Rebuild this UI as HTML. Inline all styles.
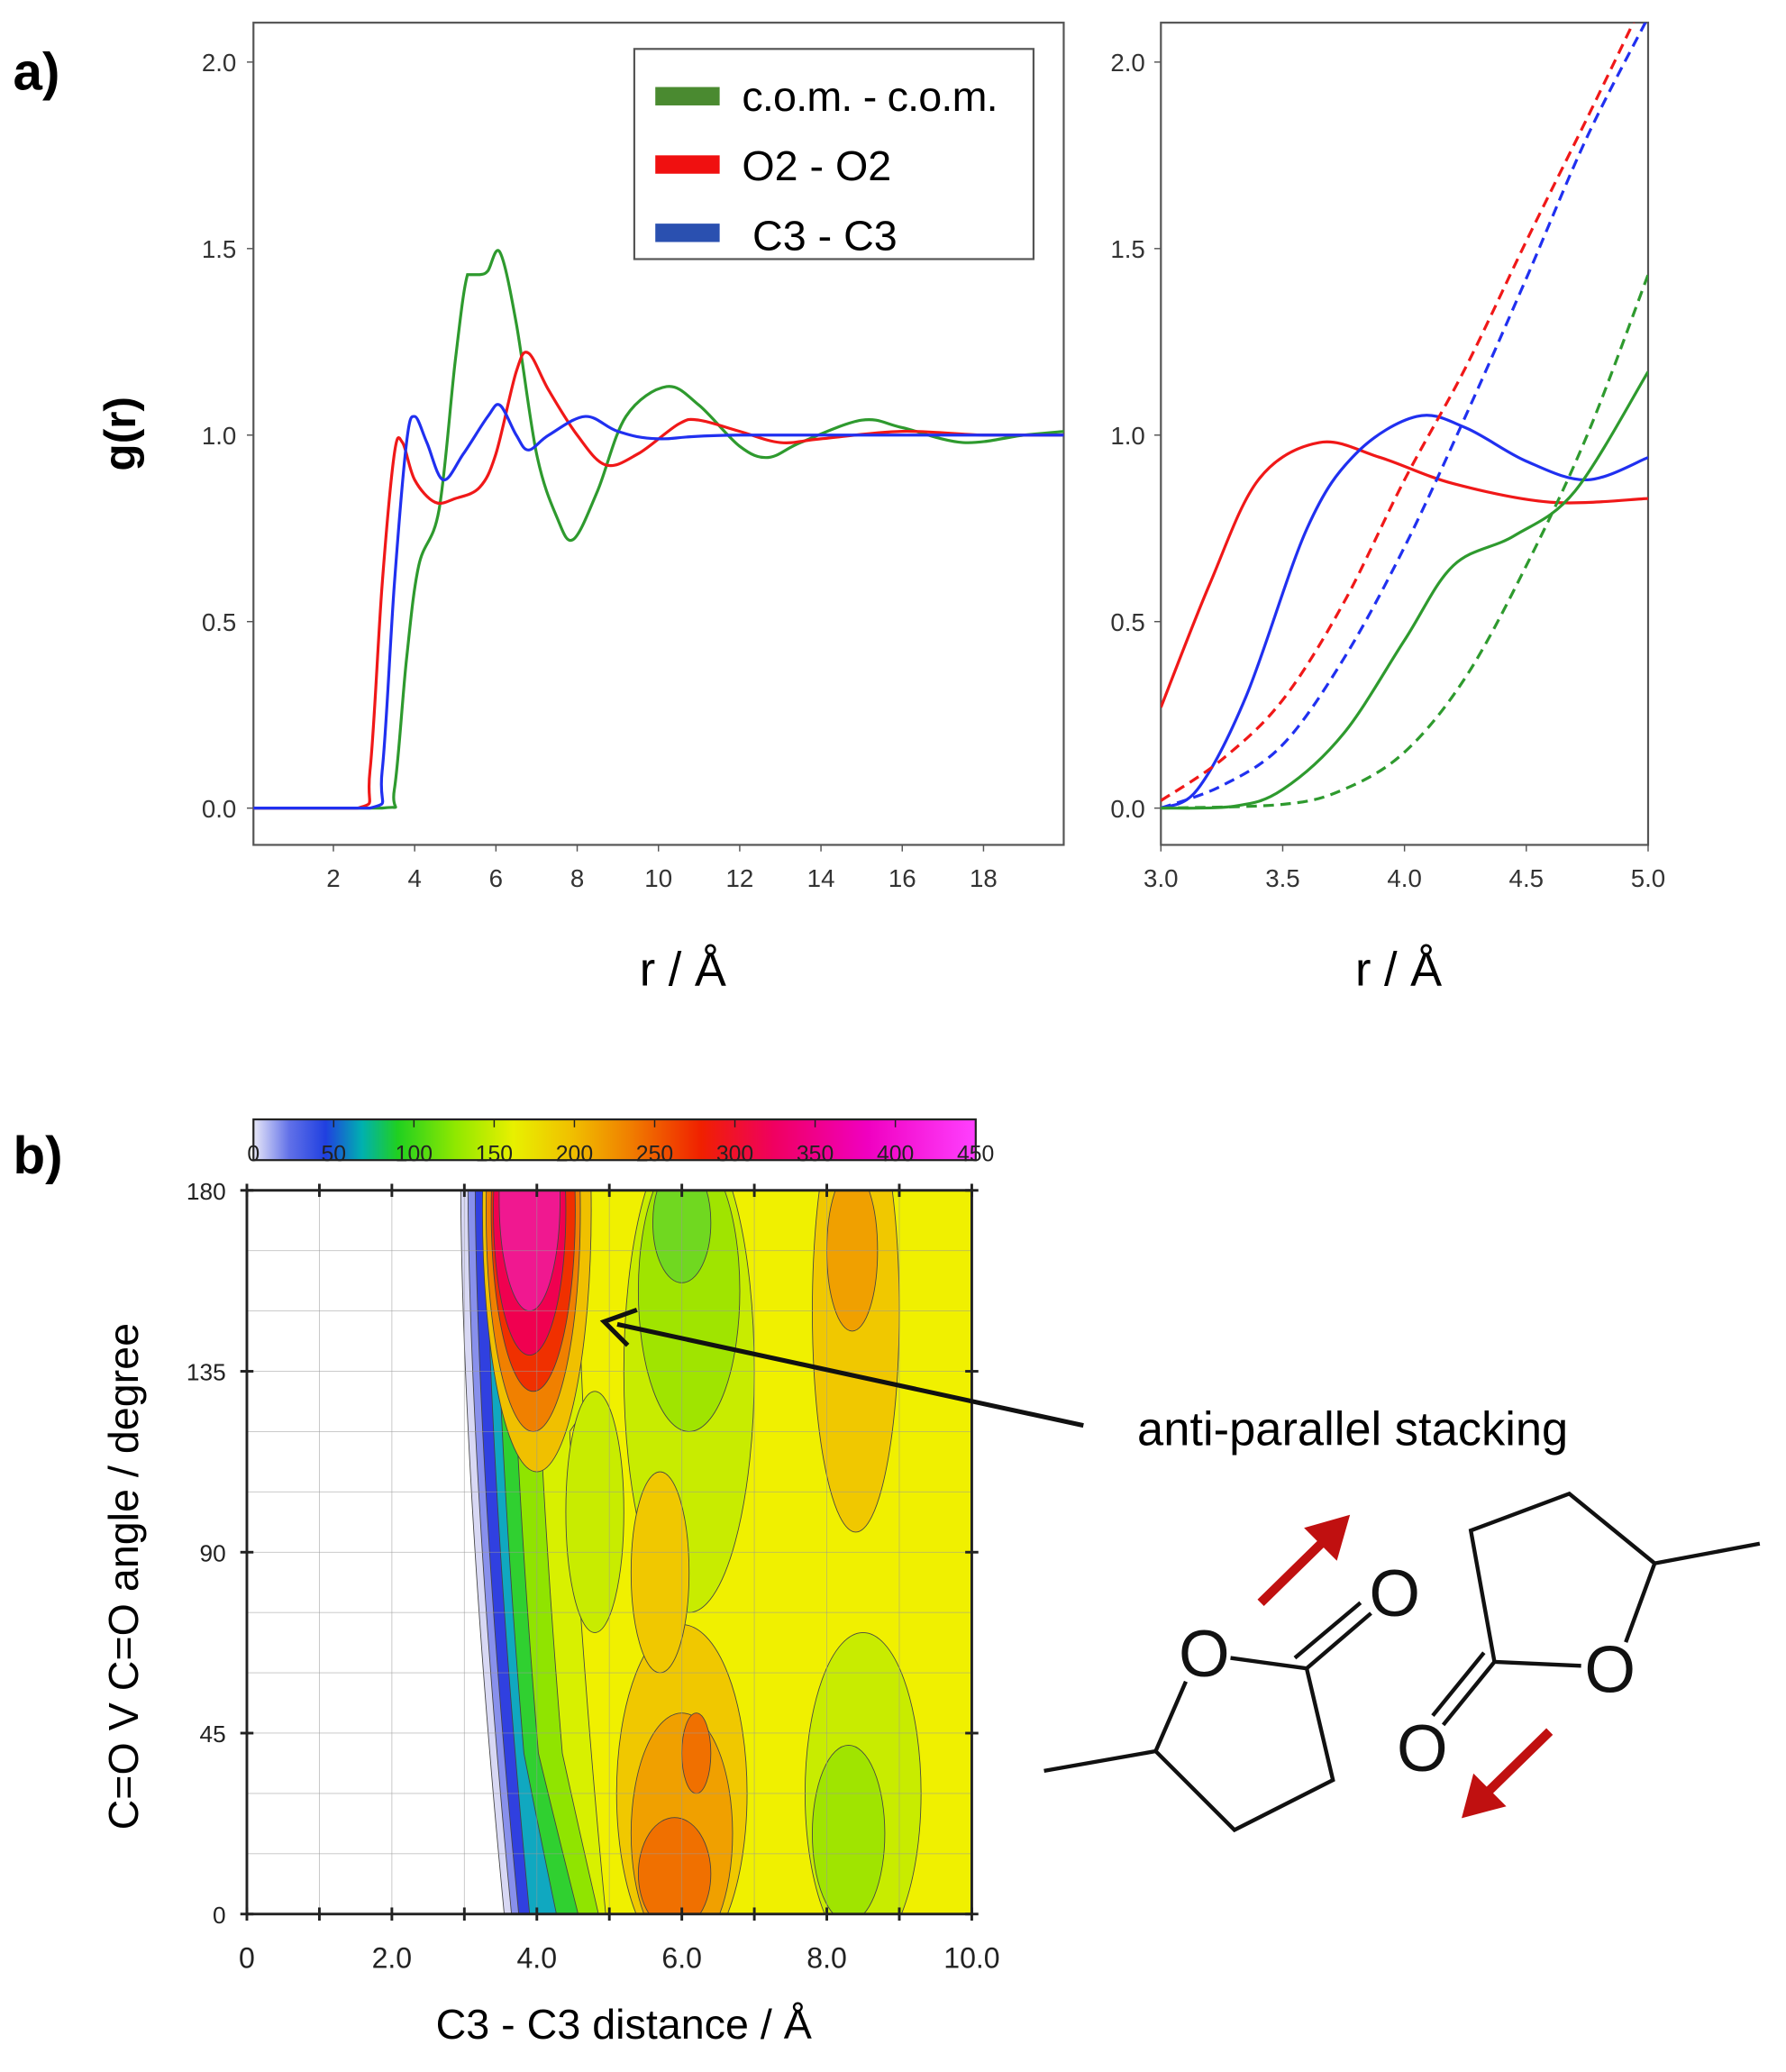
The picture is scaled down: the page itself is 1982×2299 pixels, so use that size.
<!DOCTYPE html>
<html><head><meta charset="utf-8"><style>
html,body{margin:0;padding:0;background:#fff;}
svg{display:block;}
text{font-family:"Liberation Sans",sans-serif;}
</style></head><body>
<svg id="s" width="1982" height="2299" viewBox="0 0 1360 1577" xmlns="http://www.w3.org/2000/svg">
<defs>
<clipPath id="cl"><rect x="193" y="17" width="617" height="626"/></clipPath>
<clipPath id="cr"><rect x="884" y="17" width="371" height="626"/></clipPath>
<clipPath id="ch"><rect x="188" y="906" width="552" height="551"/></clipPath>
<linearGradient id="cb" x1="0" x2="1" y1="0" y2="0">
<stop offset="0" stop-color="#e8e8f8"/><stop offset="0.05" stop-color="#6070e8"/>
<stop offset="0.1" stop-color="#2040e0"/><stop offset="0.15" stop-color="#00b0b0"/>
<stop offset="0.2" stop-color="#20d020"/><stop offset="0.28" stop-color="#90e800"/>
<stop offset="0.36" stop-color="#e8f000"/><stop offset="0.44" stop-color="#f0c000"/>
<stop offset="0.52" stop-color="#f08000"/><stop offset="0.62" stop-color="#f02000"/>
<stop offset="0.72" stop-color="#f00060"/><stop offset="0.85" stop-color="#f000c0"/>
<stop offset="1" stop-color="#ff40ff"/></linearGradient>
</defs>
<text x="10" y="68" font-size="40" font-weight="bold">a)</text>
<rect x="193" y="17" width="617" height="626" fill="none" stroke="#555" stroke-width="1.5"/>
<rect x="884" y="17" width="371" height="626" fill="none" stroke="#555" stroke-width="1.5"/>
<g id="ax" font-size="19" fill="#333"></g>
<text x="0" y="0" font-size="34" transform="translate(103,330) rotate(-90)" text-anchor="middle" font-weight="bold">g(r)</text>
<text x="520" y="750" font-size="36" text-anchor="middle">r / Å</text>
<text x="1065" y="750" font-size="36" text-anchor="middle">r / Å</text>
<g id="curves" fill="none" stroke-width="2.2"></g>
<rect x="483" y="37" width="304" height="160" fill="#fff" stroke="#555" stroke-width="1.5"/>
<rect x="499" y="66" width="49" height="14" fill="#4a8a30"/>
<rect x="499" y="118" width="49" height="14" fill="#f01010"/>
<rect x="499" y="170" width="49" height="14" fill="#2a50b0"/>
<text x="565" y="84" font-size="32" textLength="195">c.o.m. - c.o.m.</text>
<text x="565" y="137" font-size="32">O2 - O2</text>
<text x="573" y="190" font-size="32">C3 - C3</text>
<text x="10" y="893" font-size="40" font-weight="bold">b)</text>
<rect x="193" y="852" width="550" height="31" fill="url(#cb)" stroke="#222" stroke-width="1.5"/>
<g id="cbl" font-size="17" fill="#222"></g>
<g clip-path="url(#ch)" id="heat"></g>
<g id="hax"></g>
<text x="0" y="0" font-size="32" transform="translate(105,1200) rotate(-90)" text-anchor="middle">C=O V C=O angle / degree</text>
<text x="475" y="1552" font-size="32" text-anchor="middle">C3 - C3 distance / Å</text>
<line x1="825" y1="1085" x2="470" y2="1008" stroke="#111" stroke-width="3.5"/>
<polyline points="485,997 460,1006 478,1024" fill="none" stroke="#111" stroke-width="3.5"/>
<text x="866" y="1100" font-size="36">anti-parallel stacking</text>
<g fill="none" stroke="#111" stroke-width="3">
<polyline points="937,1262 995,1270 1015,1355 940,1393 880,1333 903,1280"/>
<line x1="880" y1="1333" x2="795" y2="1348"/>
<line x1="995" y1="1270" x2="1044" y2="1228"/>
<line x1="986" y1="1262" x2="1036" y2="1220"/>
<polyline points="1204,1268 1138,1265 1120,1165 1195,1137 1260,1190 1238,1250"/>
<line x1="1260" y1="1190" x2="1340" y2="1175"/>
<line x1="1138" y1="1265" x2="1099" y2="1313"/>
<line x1="1130" y1="1258" x2="1091" y2="1306"/>
</g>
<g font-size="50" text-anchor="middle" fill="#111">
<text x="917" y="1276">O</text><text x="1062" y="1230">O</text>
<text x="1226" y="1288">O</text><text x="1083" y="1348">O</text>
</g>
<g fill="#c01010" stroke="#c01010">
<line x1="960" y1="1220" x2="1008" y2="1173" stroke-width="7"/>
<polygon points="1028,1153 993,1163 1018,1188" stroke="none"/>
<line x1="1180" y1="1318" x2="1132" y2="1365" stroke-width="7"/>
<polygon points="1113,1384 1122,1350 1147,1375" stroke="none"/>
</g>
</svg>
<script>
const NS="http://www.w3.org/2000/svg";
function el(p,t,a,txt){const e=document.createElementNS(NS,t);for(const k in a)e.setAttribute(k,a[k]);if(txt!==undefined)e.textContent=txt;document.getElementById(p).appendChild(e);return e;}
const LX=r=>192+30.94*r, Y=g=>615-284*g, RX=r=>884+185.5*(r-3);
for(const g of [0,0.5,1,1.5,2]){el('ax','text',{x:180,y:Y(g)+7,'text-anchor':'end'},g.toFixed(1));el('ax','text',{x:872,y:Y(g)+7,'text-anchor':'end'},g.toFixed(1));
el('ax','line',{x1:188,x2:193,y1:Y(g),y2:Y(g),stroke:'#555'});el('ax','line',{x1:879,x2:884,y1:Y(g),y2:Y(g),stroke:'#555'});}
for(let r=2;r<=18;r+=2){el('ax','text',{x:LX(r),y:675,'text-anchor':'middle'},r);el('ax','line',{x1:LX(r),x2:LX(r),y1:643,y2:648,stroke:'#555'});}
for(const r of [3,3.5,4,4.5,5]){el('ax','text',{x:RX(r),y:675,'text-anchor':'middle'},r.toFixed(1));el('ax','line',{x1:RX(r),x2:RX(r),y1:643,y2:648,stroke:'#555'});}
function path(pts,fx){pts=pts.map(p=>[fx(p[0]),Y(p[1])]);let d='M'+pts[0][0]+','+pts[0][1];
for(let i=0;i<pts.length-1;i++){const p0=pts[i-1]||pts[i],p1=pts[i],p2=pts[i+1],p3=pts[i+2]||p2;
let y1=p1[1]+(p2[1]-p0[1])/6,y2=p2[1]-(p3[1]-p1[1])/6;const lo=Math.min(p1[1],p2[1]),hi=Math.max(p1[1],p2[1]);
if(p1[1]==p2[1]){y1=p1[1];y2=p2[1];}
d+=' C'+(p1[0]+(p2[0]-p0[0])/6)+','+y1+' '+(p2[0]-(p3[0]-p1[0])/6)+','+y2+' '+p2[0]+','+p2[1];}return d;}
const G='#2e9a2e',R='#f01818',B='#2030f0';
const gL=[[0,0],[3.2,0],[3.5,0.05],[3.8,0.4],[4.1,0.65],[4.6,0.8],[5.0,1.2],[5.3,1.43],[5.6,1.43],[5.8,1.44],[6.1,1.49],[6.5,1.3],[7.0,0.95],[7.5,0.78],[7.9,0.72],[8.5,0.85],[9.2,1.05],[10.2,1.13],[11,1.08],[12,0.97],[12.7,0.94],[13.5,0.98],[15,1.04],[16,1.02],[17.5,0.98],[19,1.0],[20,1.01]];
const rL=[[0,0],[2.6,0],[2.9,0.1],[3.2,0.6],[3.5,0.95],[3.7,0.98],[4.0,0.88],[4.5,0.82],[5.0,0.83],[5.6,0.86],[6.0,0.95],[6.5,1.17],[6.8,1.22],[7.3,1.12],[8,1.0],[8.7,0.92],[9.5,0.95],[10.5,1.03],[11,1.04],[12,1.01],[13,0.98],[14,0.99],[16,1.01],[18,1.0],[20,1.0]];
const bL=[[0,0],[2.9,0],[3.2,0.1],[3.5,0.6],[3.8,0.98],[4.0,1.05],[4.3,0.98],[4.7,0.88],[5.2,0.95],[5.8,1.05],[6.1,1.08],[6.5,1.0],[6.8,0.96],[7.3,1.0],[8.2,1.05],[9,1.01],[10,0.99],[12,1.0],[20,1.0]];
const gl=el('curves','g',{'clip-path':'url(#cl)'});gl.id='gl';
const gr=el('curves','g',{'clip-path':'url(#cr)'});gr.id='gr';
el('gl','path',{d:path(gL,LX),stroke:G});el('gl','path',{d:path(rL,LX),stroke:R});el('gl','path',{d:path(bL,LX),stroke:B});
el('gr','path',{d:path([[3,0.27],[3.2,0.6],[3.4,0.88],[3.65,0.98],[3.9,0.94],[4.2,0.87],[4.6,0.82],[5,0.83]],RX),stroke:R});
el('gr','path',{d:path([[3,0],[3.15,0.05],[3.35,0.3],[3.6,0.75],[3.8,0.95],[4.05,1.05],[4.25,1.02],[4.5,0.93],[4.75,0.88],[5,0.94]],RX),stroke:B});
el('gr','path',{d:path([[3,0],[3.3,0.005],[3.5,0.05],[3.75,0.2],[4.0,0.45],[4.2,0.65],[4.45,0.73],[4.7,0.85],[5,1.17]],RX),stroke:G});
el('gr','path',{d:path([[3,0.02],[3.25,0.13],[3.5,0.29],[3.75,0.55],[4,0.88],[4.25,1.18],[4.5,1.52],[4.75,1.85],[4.95,2.12]],RX),stroke:R,'stroke-dasharray':'8,5'});
el('gr','path',{d:path([[3,0],[3.25,0.06],[3.5,0.17],[3.75,0.4],[4,0.7],[4.25,1.05],[4.5,1.42],[4.75,1.8],[5,2.12]],RX),stroke:B,'stroke-dasharray':'8,5'});
el('gr','path',{d:path([[3,0],[3.5,0.01],[3.75,0.05],[4,0.15],[4.25,0.35],[4.5,0.65],[4.75,1.0],[5,1.43]],RX),stroke:G,'stroke-dasharray':'8,5'});
for(let i=0;i<=9;i++){el('cbl','text',{x:193+i*61.1,y:884,'text-anchor':'middle'},i*50);el('cbl','line',{x1:193+i*61.1,x2:193+i*61.1,y1:852,y2:858,stroke:'#222'});}
const HX=x=>188+55.2*x, HY=a=>1457-3.061*a;
const edge=a=>3.0+0.6*Math.pow((180-a)/180,1.6);
function band(off,col){let pts=[];for(let a=180;a>=0;a-=5){let o=typeof off=='function'?off(a):off;pts.push(HX(edge(a)+o)+','+HY(a));}
pts.push(HX(10.5)+','+HY(0),HX(10.5)+','+HY(180));el('heat','polygon',{points:pts.join(' '),fill:col,stroke:'#444','stroke-width':0.6});}
band(-0.05,'#d8d8f4');band(0.05,'#8890ec');band(0.15,'#3040e0');band(0.3,'#10a8c0');
band(a=>0.42+(a<40?0.25*(40-a)/40:0),'#30d030');band(a=>0.62+(a<40?0.35*(40-a)/40:0),'#90e400');
band(a=>0.95+(a<40?0.3*(40-a)/40:0)+(a>120?0.4:0),'#d8f000');band(a=>1.35+(a>120?0.2:0),'#f0f000');
function E(cx,cy,rx,ry,col){el('heat','ellipse',{cx:HX(cx),cy:HY(cy),rx:rx*55.2,ry:ry*3.061,fill:col,stroke:'#444','stroke-width':0.6});}
E(6.1,135,0.9,60,'#c8ec00');E(6.1,155,0.7,35,'#a0e400');E(6.0,172,0.4,15,'#70d820');
E(4.8,100,0.4,30,'#c8ec00');
E(8.5,30,0.8,40,'#c8ec00');E(8.3,20,0.5,22,'#a0e400');
E(8.4,150,0.6,55,'#f0c800');E(8.35,165,0.35,20,'#f0a000');
E(6.0,30,0.9,42,'#f0c800');E(6.0,20,0.7,30,'#f0a000');E(5.9,10,0.5,14,'#f07000');E(6.2,40,0.2,10,'#f07000');
E(5.7,85,0.4,25,'#f0c800');
E(4.0,175,0.75,65,'#f0c000');E(3.95,175,0.65,55,'#f08000');E(3.95,175,0.58,45,'#f03000');E(3.9,175,0.5,36,'#f00050');E(3.9,178,0.42,28,'#f01890');
for(let x=1;x<10;x++)el('heat','line',{x1:HX(x),x2:HX(x),y1:906,y2:1457,stroke:'#999','stroke-width':0.6,'stroke-opacity':0.6});
for(let a=15;a<180;a+=15)el('heat','line',{x1:188,x2:740,y1:HY(a),y2:HY(a),stroke:'#999','stroke-width':0.6,'stroke-opacity':0.6});
el('hax','rect',{x:188,y:906,width:552,height:551,fill:'none',stroke:'#222','stroke-width':2});
for(let x=0;x<=10;x++){el('hax','line',{x1:HX(x),x2:HX(x),y1:1452,y2:1462,stroke:'#222','stroke-width':2});el('hax','line',{x1:HX(x),x2:HX(x),y1:901,y2:911,stroke:'#222','stroke-width':2});}
for(let x=0;x<=10;x+=2)el('hax','text',{x:HX(x),y:1498,'text-anchor':'middle','font-size':22,fill:'#222'},x==0?'0':x.toFixed(1));
for(let a=0;a<=180;a+=45){el('hax','text',{x:172,y:HY(a)+7,'text-anchor':'end','font-size':18,fill:'#222'},a);
el('hax','line',{x1:183,x2:193,y1:HY(a),y2:HY(a),stroke:'#222','stroke-width':2});el('hax','line',{x1:735,x2:745,y1:HY(a),y2:HY(a),stroke:'#222','stroke-width':2});}
</script>
</body></html>
